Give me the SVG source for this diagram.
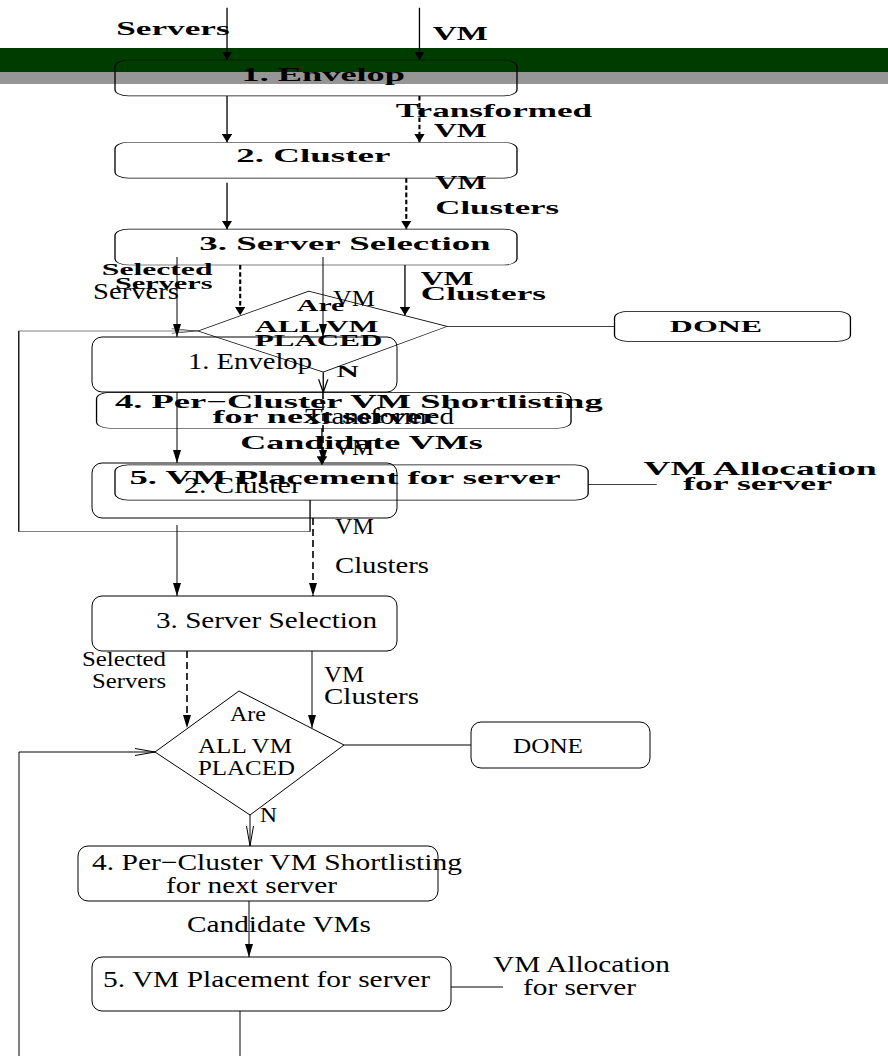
<svg xmlns="http://www.w3.org/2000/svg" width="888" height="1056" viewBox="0 0 888 1056">
<style>
.t{font-family:"Liberation Serif","Times New Roman",serif;font-size:23.5px;fill:#000}
.s{font-size:20px}
#bold-copy .t{font-size:28.5px}
#bold-copy .s{font-size:24.5px}
.box{fill:none;stroke:#000;stroke-width:1}
.ln{fill:none;stroke:#000;stroke-width:1}
.dash{stroke-dasharray:7 4;stroke-width:1.6}
.arr{marker-end:url(#ah)}
.open{marker-end:url(#oh)}
</style>
<defs>
<marker id="ah" viewBox="0 0 13 8" refX="13" refY="4" markerWidth="13" markerHeight="8" orient="auto" markerUnits="userSpaceOnUse"><path d="M0,0 L13,4 L0,8 z" fill="#000"/></marker>
<marker id="oh" viewBox="-1 -1 22 9" refX="20" refY="3.5" markerWidth="22" markerHeight="9" orient="auto" markerUnits="userSpaceOnUse"><path d="M0,0 L20,3.5 L0,7" fill="none" stroke="#000" stroke-width="1"/></marker>
</defs>
<rect x="0" y="48" width="888" height="24" fill="#003c00"/>
<rect x="0" y="72" width="888" height="12" fill="#969696"/>

<g id="bold-copy" transform="matrix(1.318 0 0 0.653 -6.26 -160.06)" font-weight="bold">
<g id="b-connectors">
<path class="ln arr" d="M177 257V337"/>
<path class="ln arr" d="M323 257V337"/>
<path class="ln arr" d="M177 392V463"/>
<path class="ln dash arr" d="M323 392V463"/>
<path class="ln arr" d="M177 525V596"/>
<path class="ln dash arr" d="M313 518V596"/>
<path class="ln dash arr" d="M187 651V728"/>
<path class="ln arr" d="M312 651V728"/>
<path class="ln open" d="M250 815V846"/>
<path class="ln arr" d="M249 901V957"/>
<path class="ln" d="M344 745H471"/>
<path class="ln" d="M451 987H503"/>
<path class="ln open" d="M240 1011V1059H19V752H155"/>
<text class="t" x="93" y="299" textLength="86" lengthAdjust="spacingAndGlyphs">Servers</text>
<text class="t" x="333" y="306" textLength="42" lengthAdjust="spacingAndGlyphs">VM</text>
<text class="t" x="305" y="424" textLength="149" lengthAdjust="spacingAndGlyphs">Transformed</text>
<text class="t" x="334" y="455" textLength="40" lengthAdjust="spacingAndGlyphs">VM</text>
<text class="t" x="335" y="534" textLength="39" lengthAdjust="spacingAndGlyphs">VM</text>
<text class="t" x="335" y="573" textLength="94" lengthAdjust="spacingAndGlyphs">Clusters</text>
<text class="t s" x="82" y="666" textLength="84" lengthAdjust="spacingAndGlyphs">Selected</text>
<text class="t s" x="92" y="688" textLength="74" lengthAdjust="spacingAndGlyphs">Servers</text>
<text class="t" x="324" y="682" textLength="40" lengthAdjust="spacingAndGlyphs">VM</text>
<text class="t" x="324" y="704" textLength="95" lengthAdjust="spacingAndGlyphs">Clusters</text>
<text class="t s" x="260" y="822" textLength="17" lengthAdjust="spacingAndGlyphs">N</text>
<text class="t" x="187" y="932" textLength="184" lengthAdjust="spacingAndGlyphs">Candidate VMs</text>
<text class="t" x="493" y="972" textLength="177" lengthAdjust="spacingAndGlyphs">VM Allocation</text>
<text class="t" x="523" y="995" textLength="113" lengthAdjust="spacingAndGlyphs">for server</text>
</g>
<g id="b-envelop"><rect class="box" x="92" y="337" width="305" height="55" rx="10"/><text class="t" x="188" y="369" textLength="124" lengthAdjust="spacingAndGlyphs">1. Envelop</text></g>
<g id="b-cluster"><rect class="box" x="92" y="463" width="305" height="55" rx="10"/><text class="t" x="184" y="493" textLength="117" lengthAdjust="spacingAndGlyphs">2. Cluster</text></g>
<g id="b-selection"><rect class="box" x="92" y="596" width="305" height="55" rx="10"/><text class="t" x="156" y="628" textLength="221" lengthAdjust="spacingAndGlyphs">3. Server Selection</text></g>
<g id="b-decision"><polygon class="box" points="155,752 239,691 344,745 250,815"/><text class="t s" x="230" y="721" textLength="36" lengthAdjust="spacingAndGlyphs">Are</text><text class="t s" x="198" y="753" textLength="94" lengthAdjust="spacingAndGlyphs">ALL VM</text><text class="t s" x="198" y="775" textLength="97" lengthAdjust="spacingAndGlyphs">PLACED</text></g>
<g id="b-done"><rect class="box" x="471" y="722" width="179" height="46" rx="10"/><text class="t s" x="513" y="753" textLength="70" lengthAdjust="spacingAndGlyphs">DONE</text></g>
<g id="b-shortlist"><rect class="box" x="78" y="846" width="360" height="55" rx="10"/><text class="t" x="92" y="870" textLength="370" lengthAdjust="spacingAndGlyphs">4. Per−Cluster VM Shortlisting</text><text class="t" x="166" y="893" textLength="171" lengthAdjust="spacingAndGlyphs">for next server</text></g>
<g id="b-placement"><rect class="box" x="92" y="957" width="359" height="54" rx="10"/><text class="t" x="103" y="987" textLength="327" lengthAdjust="spacingAndGlyphs">5. VM Placement for server</text></g>
</g>

<g id="connectors">
<path class="ln arr" d="M177 257V337"/>
<path class="ln arr" d="M323 257V337"/>
<path class="ln arr" d="M177 392V463"/>
<path class="ln dash arr" d="M323 392V463"/>
<path class="ln arr" d="M177 525V596"/>
<path class="ln dash arr" d="M313 518V596"/>
<path class="ln dash arr" d="M187 651V728"/>
<path class="ln arr" d="M312 651V728"/>
<path class="ln open" d="M250 815V846"/>
<path class="ln arr" d="M249 901V957"/>
<path class="ln" d="M344 745H471"/>
<path class="ln" d="M451 987H503"/>
<path class="ln open" d="M240 1011V1059H19V752H155"/>
<text class="t" x="93" y="299" textLength="86" lengthAdjust="spacingAndGlyphs">Servers</text>
<text class="t" x="333" y="306" textLength="42" lengthAdjust="spacingAndGlyphs">VM</text>
<text class="t" x="305" y="424" textLength="149" lengthAdjust="spacingAndGlyphs">Transformed</text>
<text class="t" x="334" y="455" textLength="40" lengthAdjust="spacingAndGlyphs">VM</text>
<text class="t" x="335" y="534" textLength="39" lengthAdjust="spacingAndGlyphs">VM</text>
<text class="t" x="335" y="573" textLength="94" lengthAdjust="spacingAndGlyphs">Clusters</text>
<text class="t s" x="82" y="666" textLength="84" lengthAdjust="spacingAndGlyphs">Selected</text>
<text class="t s" x="92" y="688" textLength="74" lengthAdjust="spacingAndGlyphs">Servers</text>
<text class="t" x="324" y="682" textLength="40" lengthAdjust="spacingAndGlyphs">VM</text>
<text class="t" x="324" y="704" textLength="95" lengthAdjust="spacingAndGlyphs">Clusters</text>
<text class="t s" x="260" y="822" textLength="17" lengthAdjust="spacingAndGlyphs">N</text>
<text class="t" x="187" y="932" textLength="184" lengthAdjust="spacingAndGlyphs">Candidate VMs</text>
<text class="t" x="493" y="972" textLength="177" lengthAdjust="spacingAndGlyphs">VM Allocation</text>
<text class="t" x="523" y="995" textLength="113" lengthAdjust="spacingAndGlyphs">for server</text>
</g>
<g id="envelop"><rect class="box" x="92" y="337" width="305" height="55" rx="10"/><text class="t" x="188" y="369" textLength="124" lengthAdjust="spacingAndGlyphs">1. Envelop</text></g>
<g id="cluster"><rect class="box" x="92" y="463" width="305" height="55" rx="10"/><text class="t" x="184" y="493" textLength="117" lengthAdjust="spacingAndGlyphs">2. Cluster</text></g>
<g id="selection"><rect class="box" x="92" y="596" width="305" height="55" rx="10"/><text class="t" x="156" y="628" textLength="221" lengthAdjust="spacingAndGlyphs">3. Server Selection</text></g>
<g id="decision"><polygon class="box" points="155,752 239,691 344,745 250,815"/><text class="t s" x="230" y="721" textLength="36" lengthAdjust="spacingAndGlyphs">Are</text><text class="t s" x="198" y="753" textLength="94" lengthAdjust="spacingAndGlyphs">ALL VM</text><text class="t s" x="198" y="775" textLength="97" lengthAdjust="spacingAndGlyphs">PLACED</text></g>
<g id="done"><rect class="box" x="471" y="722" width="179" height="46" rx="10"/><text class="t s" x="513" y="753" textLength="70" lengthAdjust="spacingAndGlyphs">DONE</text></g>
<g id="shortlist"><rect class="box" x="78" y="846" width="360" height="55" rx="10"/><text class="t" x="92" y="870" textLength="370" lengthAdjust="spacingAndGlyphs">4. Per−Cluster VM Shortlisting</text><text class="t" x="166" y="893" textLength="171" lengthAdjust="spacingAndGlyphs">for next server</text></g>
<g id="placement"><rect class="box" x="92" y="957" width="359" height="54" rx="10"/><text class="t" x="103" y="987" textLength="327" lengthAdjust="spacingAndGlyphs">5. VM Placement for server</text></g>
</svg>
